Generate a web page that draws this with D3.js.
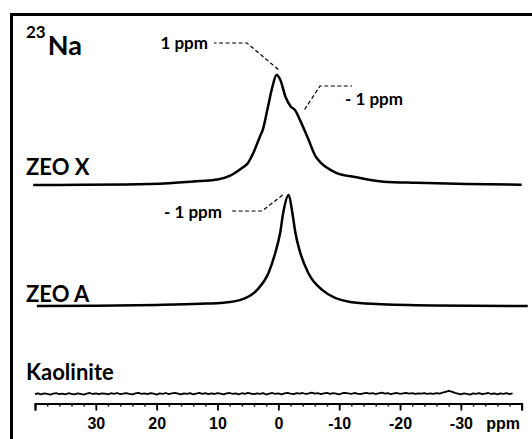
<!DOCTYPE html>
<html>
<head>
<meta charset="utf-8">
<script src="https://cdn.jsdelivr.net/npm/d3@7"></script>
<style>
  body { margin: 0; background: #fff; }
  svg { display: block; }
</style>
</head>
<body>
<div id="chart"></div>
<script>
const WIDTH = 532;
const HEIGHT = 439;

// spectra: [ppm, intensity (a.u., peak ~100)]
const zeoX = [[40.3, 0], [32, 0.2], [25, 0.4], [18, 1.5], [13, 3.5], [10, 5], [7.9, 8.5], [5.8, 16],
  [5.1, 19], [4.1, 29], [3.0, 44], [2.6, 49], [1.8, 68], [1.0, 88], [0.3, 99], [-0.3, 95],
  [-1.2, 79], [-2.0, 71], [-2.8, 67], [-3.6, 58], [-4.8, 43], [-6.1, 26], [-7, 20],
  [-8.3, 14.5], [-9.5, 11], [-12.8, 7], [-17.3, 3], [-22.7, 2], [-31, 1], [-40, 0.3]];

const zeoA = [[39.7, 0], [30, 0.3], [20, 1], [12.8, 2], [9, 3], [6.2, 5.5], [3.5, 14.5],
  [1.6, 30], [0.5, 48], [-0.3, 66], [-0.8, 84], [-1.7, 100], [-2.3, 84], [-2.8, 66],
  [-3.6, 48], [-4.9, 30], [-7.2, 14.5], [-11.8, 3.6], [-16.1, 1.8], [-25.5, 0.5], [-41, 0]];

// kaolinite: only noise, one value every 0.5 ppm from 40 down to -38.5
const kaoPpm = d3.range(40, -39, -0.5);
const kaoInt = [
  0, 0.5, -0.3, 0.6, 0.1, -0.5, 0.4, 0.8, -0.2, 0.3,
  -0.4, 0.7, 0.2, -0.3, 0.5, 0.1, -0.6, 0.4, 0.9, 0.0,
  0.5, -0.2, 0.6, 0.3, -0.4, 0.7, 0.1, 0.9, -0.1, 0.4,
  0.8, 0.2, -0.3, 0.6, 1.0, 0.1, 0.5, -0.2, 0.7, 0.3,
  -0.5, 0.6, 0.2, 0.9, -0.1, 0.5, 1.0, 0.3, -0.4, 0.6,
  0.2, 0.8, -0.3, 0.4, 1.1, 0.2, 0.7, -0.2, 0.5, 0.0,
  0.8, 0.3, -0.4, 0.6, 0.9, 0.1, 0.5, -0.3, 0.7, 0.2,
  1.0, 0.4, -0.2, 0.6, 0.1, 0.8, -0.5, 0.3, 0.9, 0.2,
  0.6, -0.3, 0.5, 1.1, 0.3, -0.1, 0.7, 0.4, 0.9, 0.0,
  0.5, 1.2, 0.3, 0.7, -0.2, 0.6, 1.0, 0.2, 0.8, 0.4,
  -0.3, 0.7, 1.1, 0.5, 0.1, 0.9, 0.3, -0.2, 0.6, 1.0,
  0.4, 0.8, 0.0, 0.6, 1.2, 0.3, 0.7, -0.1, 0.5, 0.9,
  0.2, 0.6, 1.0, 0.4, 0.8, 0.1, 0.6, 0.3, 0.7, 0.2,
  0.5, 0.1, 0.8, 0.3, 1.2, 2.0, 2.8, 2.2, 1.0, 0.4,
  -0.3, 0.6, 0.2, -0.5, 0.5, 0.1, 0.7, -0.2, 0.4, 0.9,
  0.0, 0.5, -0.4, 0.6, 0.2, 0.8, -0.1, 0.5, 0.3, 0.9,
  0.1, 0.6];
const kaolinite = kaoPpm.map((p, i) => [p, kaoInt[i]]);

const sampleNames = ["ZEO X", "ZEO A", "Kaolinite"];
const majorTicks = [40, 30, 20, 10, 0, -10, -20, -30, -40];
const tickLabels = ["", "30", "20", "10", "0", "-10", "-20", "-30", ""];
const minorTicks = d3.range(40, -41, -2);

const svg = d3.select("#chart").append("svg").attr("width", WIDTH).attr("height", HEIGHT);

const x = d3.scaleLinear().domain([40, -40]).range([35, 521.7]);
const amp = d3.scaleLinear().domain([0, 100]).range([0, 111]);

const baseline = { "ZEO X": 185, "ZEO A": 306, "Kaolinite": 394 };
const axisY = 403.5;

// frame (top + left)
svg.append("path")
  .attr("d", "M11.5,439 L11.5,14.5 L534,14.5")
  .attr("fill", "none").attr("stroke", "#000").attr("stroke-width", 3);

function lineFor(name, curve) {
  return d3.line()
    .x(d => x(d[0]))
    .y(d => baseline[name] - amp(d[1]))
    .curve(curve);
}

const traces = [
  { name: "ZEO X", data: zeoX, curve: d3.curveMonotoneX, w: 2.5 },
  { name: "ZEO A", data: zeoA, curve: d3.curveMonotoneX, w: 2.5 },
  { name: "Kaolinite", data: kaolinite, curve: d3.curveLinear, w: 1.8 }
];

svg.append("g").selectAll("path")
  .data(traces)
  .join("path")
  .attr("d", d => lineFor(d.name, d.curve)(d.data))
  .attr("fill", "none")
  .attr("stroke", "#000")
  .attr("stroke-width", d => d.w)
  .attr("stroke-linejoin", "round");

// sample labels
const labelFont = "Lato, 'Open Sans', sans-serif";
const labelY = { "ZEO X": 175, "ZEO A": 302, "Kaolinite": 380 };
svg.append("g").selectAll("text")
  .data(sampleNames)
  .join("text")
  .attr("x", 26)
  .attr("y", d => labelY[d])
  .attr("font-family", labelFont)
  .attr("font-weight", "bold")
  .attr("font-size", 22)
  .text(d => d);

// nucleus label
const nuc = svg.append("text").attr("x", 26).attr("y", 55)
  .attr("font-family", labelFont).attr("font-weight", "bold");
nuc.append("tspan").attr("font-size", 17).attr("dy", -17).text("23");
nuc.append("tspan").attr("font-size", 27).attr("dy", 17).attr("dx", 2).text("Na");

// axis
const axisMajor = d3.axisBottom(x)
  .tickValues(majorTicks)
  .tickSize(7)
  .tickSizeOuter(7)
  .tickFormat((d, i) => tickLabels[i]);
const gx = svg.append("g").attr("transform", "translate(0," + axisY + ")").call(axisMajor);
gx.select(".domain").attr("stroke-width", 1.8);
gx.selectAll(".tick line").attr("stroke-width", 1.8);
gx.selectAll(".tick text")
  .attr("y", 14)
  .attr("font-family", "'Liberation Sans', Arial, sans-serif")
  .attr("font-weight", "bold")
  .attr("font-size", 16);

const axisMinor = d3.axisBottom(x).tickValues(minorTicks).tickSize(3).tickFormat("");
const gm = svg.append("g").attr("transform", "translate(0," + axisY + ")").call(axisMinor);
gm.select(".domain").remove();
gm.selectAll(".tick line").attr("stroke-width", 1.5);

svg.append("text")
  .attr("x", 520).attr("y", 429)
  .attr("text-anchor", "end")
  .attr("font-family", "'Liberation Sans', Arial, sans-serif")
  .attr("font-weight", "bold")
  .attr("font-size", 16)
  .text("ppm");

// peak annotations
function annotate(tx, ty, elbowX, elbowY, dashX, label, lx, ly, anchor) {
  svg.append("path")
    .attr("d", "M" + tx + "," + ty + " L" + elbowX + "," + elbowY + " L" + dashX + "," + elbowY)
    .attr("fill", "none").attr("stroke", "#000").attr("stroke-width", 1.2)
    .attr("stroke-dasharray", "4,2.5");
  svg.append("text").attr("x", lx).attr("y", ly)
    .attr("text-anchor", anchor)
    .attr("font-family", labelFont).attr("font-weight", "bold").attr("font-size", 17)
    .text(label);
}

// ZEO X main peak
annotate(x(0), baseline["ZEO X"] - amp(104), 247, 43, 214, "1 ppm", 208, 49, "end");
// ZEO X shoulder
annotate(x(-4.3), baseline["ZEO X"] - amp(68), 320, 86, 352, "- 1 ppm", 345, 105, "start");
// ZEO A peak
annotate(x(-0.7), baseline["ZEO A"] - amp(100), 262, 211, 231, "- 1 ppm", 222, 218, "end");
</script>
</body>
</html>
